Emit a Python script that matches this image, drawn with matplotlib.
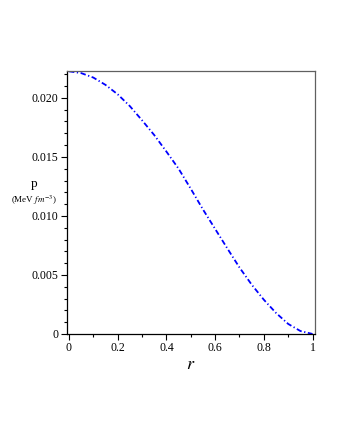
import numpy as np
import matplotlib
matplotlib.use("Agg")
import matplotlib.pyplot as plt
from matplotlib.ticker import MultipleLocator

# pressure profile
r = [0.0, 0.05, 0.1, 0.15, 0.2, 0.25, 0.3, 0.35, 0.4, 0.45, 0.5,
     0.55, 0.6, 0.65, 0.7, 0.75, 0.8, 0.85, 0.9, 0.95, 1.0]
p = [0.02225, 0.02210, 0.02172, 0.02110, 0.02030, 0.01930, 0.01810, 0.01685,
     0.01545, 0.01400, 0.01230, 0.01055, 0.00890, 0.00725, 0.00563, 0.00418,
     0.00290, 0.00178, 0.00085, 0.00025, 0.0]
yticks = [0, 0.005, 0.010, 0.015, 0.020]
ytick_labels = ["0", "0.005", "0.010", "0.015", "0.020"]
xticks = [0, 0.2, 0.4, 0.6, 0.8, 1]
xtick_labels = ["0", "0.2", "0.4", "0.6", "0.8", "1"]

plt.rcParams["font.family"] = ["Liberation Serif", "DejaVu Serif"]
plt.rcParams["mathtext.fontset"] = "stix"

fig = plt.figure(figsize=(3.4, 4.4), dpi=100)
ax = fig.add_axes([0.197, 0.241, 0.729, 0.598])

ax.plot(r, p, color="#0000ff", lw=1.3, dashes=(3, 1.4, 0.7, 1.4),
        solid_capstyle="butt", dash_capstyle="butt")

ax.set_xlim(-0.0082, 1.0094)
ax.set_ylim(0, 0.02229)
ax.set_xticks(xticks); ax.set_xticklabels(xtick_labels)
ax.set_yticks(yticks); ax.set_yticklabels(ytick_labels)
ax.xaxis.set_minor_locator(MultipleLocator(0.1))
ax.yaxis.set_minor_locator(MultipleLocator(0.001))
ax.tick_params(which="both", direction="out", top=False, right=False,
               labelsize=8.5, width=0.8, colors="black", pad=2)
ax.tick_params(which="major", length=4)
ax.tick_params(which="minor", length=2.5)
for s in ["top", "right"]:
    ax.spines[s].set_color("#606060")
for s in ax.spines.values():
    s.set_linewidth(0.9)

ax.set_xlabel("$r$", fontsize=13, labelpad=1)
fig.text(34 / 340, 1 - 184 / 440, "p", fontsize=9.5, ha="center", va="center")
fig.text(34 / 340, 1 - 200 / 440, r"(MeV $fm^{-3}$)", fontsize=6.5,
         ha="center", va="center")

fig.savefig("out.png", dpi=100)
